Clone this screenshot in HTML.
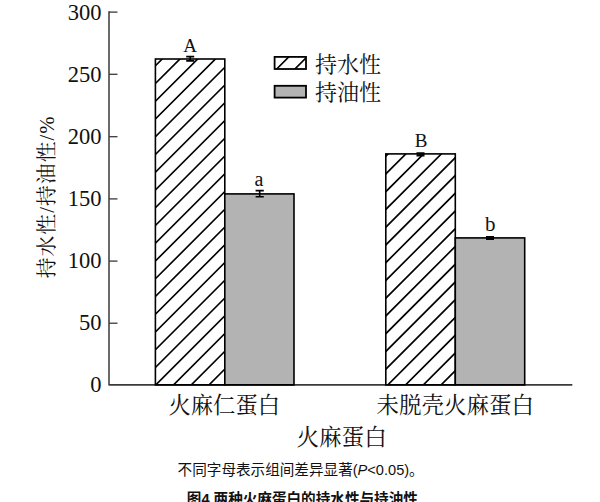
<!DOCTYPE html>
<html lang="zh"><head><meta charset="utf-8"><title>Figure 4</title>
<style>
html,body{margin:0;padding:0;background:#fff;}
body{width:600px;height:502px;overflow:hidden;font-family:"Liberation Serif",serif;}
svg{display:block;}
</style></head><body>
<svg width="600" height="502" viewBox="0 0 600 502">
<rect width="600" height="502" fill="#fff"/>
<path d="M109.00 11.35 V384.80 H572.20" fill="none" stroke="#3a3a3a" stroke-width="1.5"/>
<path d="M109.00 12.10 H117.50" stroke="#3a3a3a" stroke-width="1.3"/>
<path d="M109.00 74.30 H117.50" stroke="#3a3a3a" stroke-width="1.3"/>
<path d="M109.00 136.70 H117.50" stroke="#3a3a3a" stroke-width="1.3"/>
<path d="M109.00 198.90 H117.50" stroke="#3a3a3a" stroke-width="1.3"/>
<path d="M109.00 261.10 H117.50" stroke="#3a3a3a" stroke-width="1.3"/>
<path d="M109.00 323.20 H117.50" stroke="#3a3a3a" stroke-width="1.3"/>
<g font-family="'Liberation Serif', serif" font-size="22.5" fill="#111" text-anchor="end">
<text x="101.6" y="19.70">300</text>
<text x="101.6" y="81.82">250</text>
<text x="101.6" y="143.93">200</text>
<text x="101.6" y="206.05">150</text>
<text x="101.6" y="268.17">100</text>
<text x="101.6" y="330.28">50</text>
<text x="101.6" y="392.40">0</text>
</g>
<clipPath id="c0"><rect x="155.40" y="59.00" width="69.40" height="325.80"/></clipPath>
<rect x="155.40" y="59.00" width="69.40" height="325.80" fill="#fff"/>
<path d="M153.40 67.80 L226.80 -5.60 M153.40 85.55 L226.80 12.15 M153.40 103.30 L226.80 29.90 M153.40 121.05 L226.80 47.65 M153.40 138.80 L226.80 65.40 M153.40 156.55 L226.80 83.15 M153.40 174.30 L226.80 100.90 M153.40 192.05 L226.80 118.65 M153.40 209.80 L226.80 136.40 M153.40 227.55 L226.80 154.15 M153.40 245.30 L226.80 171.90 M153.40 263.05 L226.80 189.65 M153.40 280.80 L226.80 207.40 M153.40 298.55 L226.80 225.15 M153.40 316.30 L226.80 242.90 M153.40 334.05 L226.80 260.65 M153.40 351.80 L226.80 278.40 M153.40 369.55 L226.80 296.15 M153.40 387.30 L226.80 313.90 M153.40 405.05 L226.80 331.65 M153.40 422.80 L226.80 349.40 M153.40 440.55 L226.80 367.15 M153.40 458.30 L226.80 384.90" stroke="#000" stroke-width="1.65" clip-path="url(#c0)" fill="none"/>
<rect x="155.40" y="59.00" width="69.40" height="325.80" fill="none" stroke="#000" stroke-width="1.6"/>
<path d="M186.20 56.60 H194.20 M186.20 60.85 H194.20 M190.20 56.60 V60.85" stroke="#000" stroke-width="1.6" fill="none"/>
<text x="183.2" y="51.80" font-family="'Liberation Serif', serif" font-size="19" fill="#111">A</text>
<rect x="224.80" y="193.90" width="69.20" height="190.90" fill="#b3b3b3" stroke="#000" stroke-width="1.6"/>
<path d="M255.60 190.60 H263.80 M255.60 196.80 H263.80 M259.70 190.60 V196.80" stroke="#000" stroke-width="1.6" fill="none"/>
<text x="254.6" y="185.50" font-family="'Liberation Serif', serif" font-size="20" fill="#111">a</text>
<clipPath id="c2"><rect x="385.80" y="153.90" width="69.50" height="230.90"/></clipPath>
<rect x="385.80" y="153.90" width="69.50" height="230.90" fill="#fff"/>
<path d="M383.80 158.20 L457.30 84.70 M383.80 175.95 L457.30 102.45 M383.80 193.70 L457.30 120.20 M383.80 211.45 L457.30 137.95 M383.80 229.20 L457.30 155.70 M383.80 246.95 L457.30 173.45 M383.80 264.70 L457.30 191.20 M383.80 282.45 L457.30 208.95 M383.80 300.20 L457.30 226.70 M383.80 317.95 L457.30 244.45 M383.80 335.70 L457.30 262.20 M383.80 353.45 L457.30 279.95 M383.80 371.20 L457.30 297.70 M383.80 388.95 L457.30 315.45 M383.80 406.70 L457.30 333.20 M383.80 424.45 L457.30 350.95 M383.80 442.20 L457.30 368.70 M383.80 459.95 L457.30 386.45" stroke="#000" stroke-width="1.65" clip-path="url(#c2)" fill="none"/>
<rect x="385.80" y="153.90" width="69.50" height="230.90" fill="none" stroke="#000" stroke-width="1.6"/>
<path d="M416.50 153.30 H424.50 M416.50 155.50 H424.50 M420.50 153.30 V155.50" stroke="#000" stroke-width="2" fill="none"/>
<text x="414.7" y="146.80" font-family="'Liberation Serif', serif" font-size="19" fill="#111">B</text>
<rect x="455.30" y="237.90" width="69.40" height="146.90" fill="#b3b3b3" stroke="#000" stroke-width="1.6"/>
<path d="M486.00 236.90 H494.00 M486.00 238.90 H494.00 M490.00 236.90 V238.90" stroke="#000" stroke-width="2" fill="none"/>
<text x="485.1" y="230.60" font-family="'Liberation Serif', serif" font-size="21" fill="#111">b</text>
<path d="M109.00 384.80 H572.20" stroke="#3a3a3a" stroke-width="1.5"/>
<path d="M154.60 384.80 H225.60" stroke="#000" stroke-width="1.6"/>
<path d="M224.00 384.80 H294.80" stroke="#000" stroke-width="1.6"/>
<path d="M385.00 384.80 H456.10" stroke="#000" stroke-width="1.6"/>
<path d="M454.50 384.80 H525.50" stroke="#000" stroke-width="1.6"/>
<clipPath id="lc"><rect x="274.60" y="56.90" width="31.40" height="12.10"/></clipPath>
<rect x="274.60" y="56.90" width="31.40" height="12.10" fill="#fff"/>
<path d="M274.70 71.00 L290.80 54.90 M292.90 71.00 L309.00 54.90" stroke="#000" stroke-width="1.65" clip-path="url(#lc)"/>
<rect x="274.60" y="56.90" width="31.40" height="12.10" fill="none" stroke="#000" stroke-width="1.8"/>
<rect x="274.60" y="85.80" width="31.40" height="11.80" fill="#b3b3b3" stroke="#000" stroke-width="1.8"/>
<g font-family="'Liberation Serif', 'Noto Serif CJK SC', serif" fill="#111">
<text x="314.90" y="71.60" font-size="22">持水性</text>
<text x="314.90" y="99.60" font-size="22">持油性</text>
<text x="168.50" y="412.50" font-size="22.3">火麻仁蛋白</text>
<text x="376.50" y="412.50" font-size="22.5">未脱壳火麻蛋白</text>
<text x="296.40" y="444.80" font-size="22.6">火麻蛋白</text>
</g>
<g transform="translate(53.90 278.30) rotate(-90)"><text x="0" y="0" font-family="'Liberation Serif', 'Noto Serif CJK SC', serif" font-size="20.8" fill="#111" textLength="162" lengthAdjust="spacing">持水性/持油性/%</text></g>
<text x="177.60" y="474.90" font-family="'Liberation Sans', 'Noto Sans CJK SC', sans-serif" font-size="14.6" fill="#111">不同字母表示组间差异显著(<tspan font-style="italic">P</tspan>&lt;0.05)。</text>
<text x="186.80" y="504.40" font-family="'Liberation Sans', 'Noto Sans CJK SC', sans-serif" font-size="14.6" font-weight="bold" fill="#111">图4 两种火麻蛋白的持水性与持油性</text>
</svg>
</body></html>
